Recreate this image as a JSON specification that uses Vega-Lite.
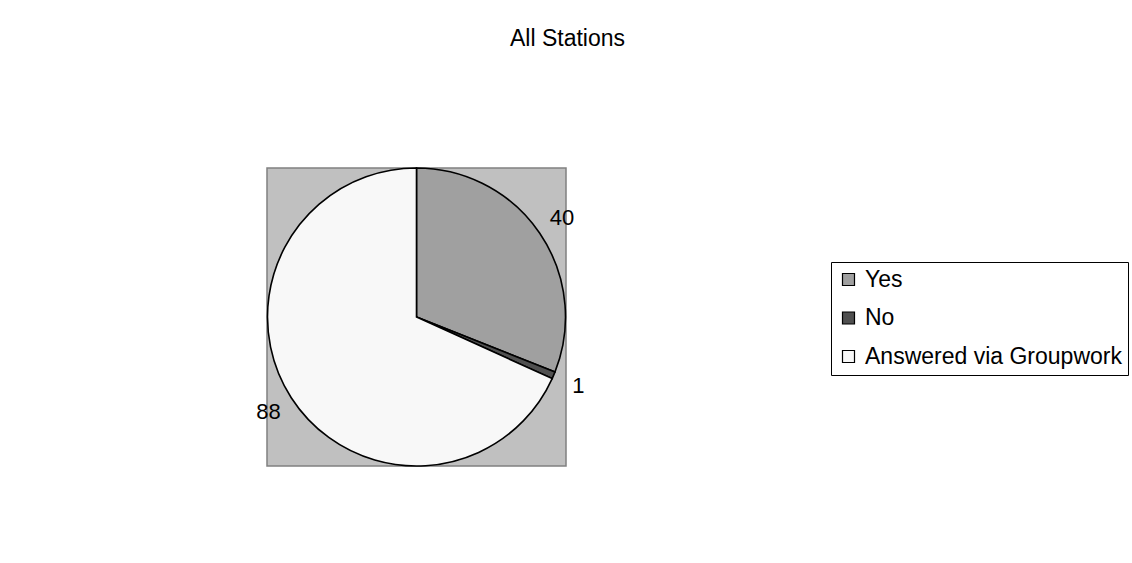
{
  "$schema": "https://vega.github.io/schema/vega-lite/v6.json",
  "width": 299,
  "height": 298,
  "autosize": "none",
  "padding": {"left": 267, "top": 168, "right": 566, "bottom": 97},
  "background": "white",
  "view": {"fill": "#c0c0c0", "stroke": "#808080", "strokeWidth": 1.5},
  "title": {
    "text": "All Stations",
    "frame": "group",
    "anchor": "middle",
    "dx": 151,
    "offset": 114,
    "font": "Liberation Sans",
    "fontSize": 23,
    "fontWeight": "normal",
    "color": "black"
  },
  "data": {
    "values": [
      {"answer": "Yes", "count": 40, "order": 1},
      {"answer": "No", "count": 1, "order": 2},
      {"answer": "Answered via Groupwork", "count": 88, "order": 3}
    ]
  },
  "encoding": {
    "theta": {"field": "count", "type": "quantitative", "stack": true},
    "order": {"field": "order", "type": "quantitative"}
  },
  "layer": [
    {
      "mark": {"type": "arc", "outerRadius": 149, "stroke": "black", "strokeWidth": 1.6},
      "encoding": {
        "color": {
          "field": "answer",
          "type": "nominal",
          "sort": ["Yes", "No", "Answered via Groupwork"],
          "scale": {
            "domain": ["Yes", "No", "Answered via Groupwork"],
            "range": ["#a0a0a0", "#505050", "#f8f8f8"]
          },
          "legend": {
            "title": null,
            "orient": "none",
            "legendX": 564,
            "legendY": 94,
            "strokeColor": "black",
            "fillColor": "white",
            "padding": 6,
            "symbolType": "square",
            "symbolSize": 144,
            "symbolStrokeColor": "black",
            "symbolStrokeWidth": 1.2,
            "labelFont": "Liberation Sans",
            "labelFontSize": 23,
            "labelColor": "black",
            "labelLimit": 0,
            "rowPadding": 14.5,
            "labelOffset": 5
          }
        }
      }
    },
    {
      "mark": {
        "type": "text",
        "radius": 176,
        "font": "Liberation Sans",
        "fontSize": 22,
        "color": "black"
      },
      "encoding": {
        "text": {"field": "count", "type": "quantitative"}
      }
    }
  ]
}
